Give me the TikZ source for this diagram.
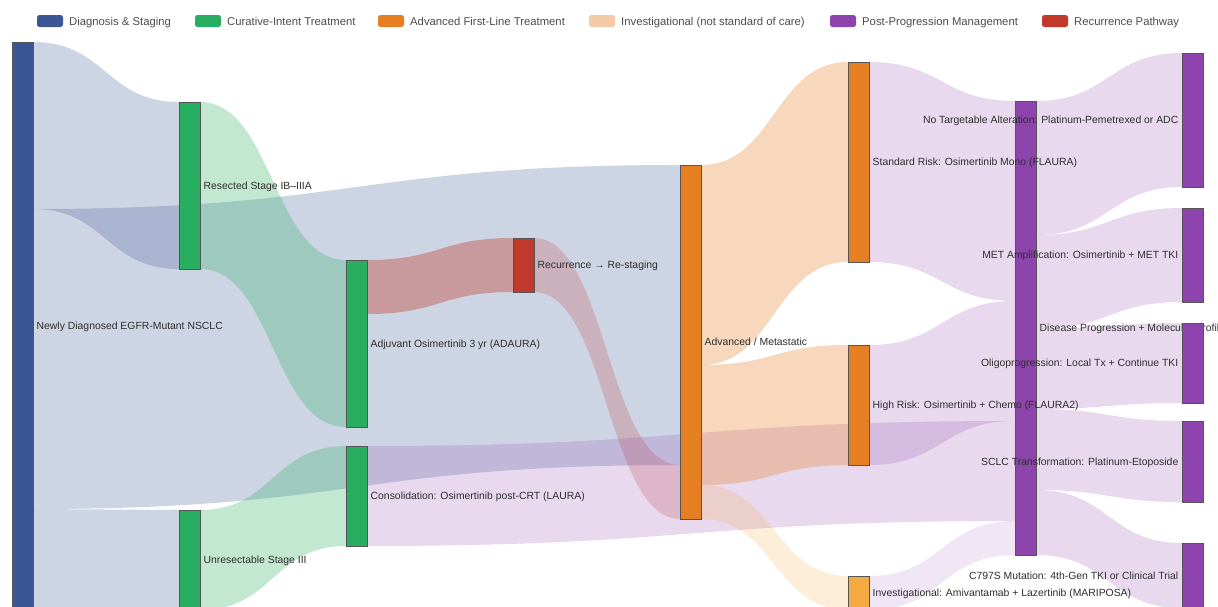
\documentclass[tikz,border=0pt]{standalone}
\usepackage{fontspec}
\setmainfont{Liberation Sans}
\usetikzlibrary{calc,backgrounds}
\pgfdeclarelayer{paper}
\pgfsetlayers{paper,background,main}
\definecolor{cblue}{HTML}{3B5595}
\definecolor{cgreen}{HTML}{27AE60}
\definecolor{corange}{HTML}{E67E22}
\definecolor{cpeach}{HTML}{F5CBA7}
\definecolor{cinv}{HTML}{F4AA40}
\definecolor{cpurple}{HTML}{8E44AD}
\definecolor{cred}{HTML}{C0392B}
\definecolor{ctext}{HTML}{2E2E2E}
\definecolor{cborder}{HTML}{555555}
\tikzset{
  sknode/.style={rectangle, draw=cborder, line width=0.7pt, inner sep=0pt, outer sep=0pt,
    minimum width=21pt, anchor=north west},
  lblR/.style={anchor=base west, inner sep=0pt, font=\fontsize{10.4}{12}\selectfont, text=ctext, xshift=3.5pt, yshift=-3.7pt},
  lblL/.style={anchor=base east, inner sep=0pt, font=\fontsize{10.4}{12}\selectfont, text=ctext, xshift=-3.5pt, yshift=-3.7pt},
  legbox/.style={rectangle, rounded corners=2.5pt, inner sep=0pt, outer sep=0pt,
    minimum width=26pt, minimum height=12pt, anchor=west},
  legtext/.style={anchor=base west, inner sep=0pt, font=\fontsize{11.3}{13}\selectfont, text=ctext!85!white, yshift=-4pt},
  fblue/.style={fill=cblue, fill opacity=0.25},
  fgreen/.style={fill=cgreen, fill opacity=0.28},
  fred/.style={fill=cred, fill opacity=0.38},
  fpink/.style={fill=cred, fill opacity=0.22},
  fpeach/.style={fill=corange, fill opacity=0.30},
  finv/.style={fill=cinv, fill opacity=0.20},
  fpurple/.style={fill=cpurple, fill opacity=0.20},
  fpurplelt/.style={fill=cpurple, fill opacity=0.13},
}
% #1 source, #2 offset in source, #3 target, #4 offset in target, #5 width, #6 style
\newcommand{\skflow}[6]{%
  \path[#6] let \p1=($(#1.north east)+(0,#2)$), \p2=($(#3.north west)+(0,#4)$),
    \p3=($(\p1)!0.5!(\p2)$) in
    (\p1) .. controls (\x3,\y1) and (\x3,\y2) .. (\p2)
    -- (\x2,{\y2-#5pt}) .. controls (\x3,{\y2-#5pt}) and (\x3,{\y1-#5pt}) .. (\x1,{\y1-#5pt})
    -- cycle;}
\begin{document}
\begin{tikzpicture}[x=1pt,y=-1pt]
\useasboundingbox (0,0) rectangle (1218,606);
\begin{pgfonlayer}{paper}
\fill[white] (0,0) rectangle (1218,606);
\end{pgfonlayer}
\clip (0,0) rectangle (1218,606);

% legend
\node[legbox, fill=cblue] (lg1) at (37,21) {};
\node[legtext] (lt1) at (69,21) {Diagnosis \& Staging};
\node[legbox, fill=cgreen] (lg2) at (195,21) {};
\node[legtext] (lt2) at (227,21) {Curative-Intent Treatment};
\node[legbox, fill=corange] (lg3) at (378,21) {};
\node[legtext] (lt3) at (410,21) {Advanced First-Line Treatment};
\node[legbox, fill=cpeach] (lg4) at (589,21) {};
\node[legtext] (lt4) at (621,21) {Investigational (not standard of care)};
\node[legbox, fill=cpurple] (lg5) at (830,21) {};
\node[legtext] (lt5) at (862,21) {Post-Progression Management};
\node[legbox, fill=cred] (lg6) at (1042,21) {};
\node[legtext] (lt6) at (1074,21) {Recurrence Pathway};

% nodes
\node[sknode, fill=cblue, minimum height=567pt] (nd) at (12,42) {};
\node[sknode, fill=cgreen, minimum height=167pt] (res) at (179,102) {};
\node[sknode, fill=cgreen, minimum height=100pt] (unr) at (179,510) {};
\node[sknode, fill=cgreen, minimum height=167pt] (adj) at (346,260) {};
\node[sknode, fill=cgreen, minimum height=100pt] (con) at (346,446) {};
\node[sknode, fill=cred, minimum height=54pt] (rec) at (513,238) {};
\node[sknode, fill=corange, minimum height=354pt] (adv) at (680,165) {};
\node[sknode, fill=corange, minimum height=200pt] (std) at (848,62) {};
\node[sknode, fill=corange, minimum height=120pt] (high) at (848,345) {};
\node[sknode, fill=cinv, minimum height=34pt] (inv) at (848,576) {};
\node[sknode, fill=cpurple, minimum height=454pt] (dp) at (1015,101) {};
\node[sknode, fill=cpurple, minimum height=134pt] (nta) at (1182,53) {};
\node[sknode, fill=cpurple, minimum height=94pt] (met) at (1182,208) {};
\node[sknode, fill=cpurple, minimum height=80pt] (oli) at (1182,323) {};
\node[sknode, fill=cpurple, minimum height=81pt] (scl) at (1182,421) {};
\node[sknode, fill=cpurple, minimum height=65pt] (c79) at (1182,543) {};

% flows
\begin{pgfonlayer}{background}
\skflow{nd}{0}{res}{0}{167}{fblue}
\skflow{nd}{167}{adv}{0}{300}{fblue}
\skflow{nd}{467}{unr}{0}{100}{fblue}
\skflow{res}{0}{adj}{0}{167}{fgreen}
\skflow{unr}{0}{con}{0}{100}{fgreen}
\skflow{adj}{0}{rec}{0}{54}{fred}
\skflow{rec}{0}{adv}{300}{54}{fpink}
\skflow{con}{0}{dp}{320}{100}{fpurple}
\skflow{adv}{0}{std}{0}{200}{fpeach}
\skflow{adv}{200}{high}{0}{120}{fpeach}
\skflow{adv}{320}{inv}{0}{34}{finv}
\skflow{std}{0}{dp}{0}{200}{fpurple}
\skflow{high}{0}{dp}{200}{120}{fpurple}
\skflow{inv}{0}{dp}{420}{34}{fpurplelt}
\skflow{dp}{0}{nta}{0}{134}{fpurple}
\skflow{dp}{134}{met}{0}{94}{fpurple}
\skflow{dp}{228}{oli}{0}{80}{fpurple}
\skflow{dp}{308}{scl}{0}{81}{fpurple}
\skflow{dp}{389}{c79}{0}{65}{fpurple}
% progression label lies under the right-hand column nodes, as in the reference
\node[lblR] (dpl) at (dp.east) {Disease Progression + Molecular Profiling};
\end{pgfonlayer}

% labels
\node[lblR] (ndl) at (nd.east) {Newly Diagnosed EGFR-Mutant NSCLC};
\node[lblR] (resl) at (res.east) {Resected Stage IB–IIIA};
\node[lblR] (unrl) at (unr.east) {Unresectable Stage III};
\node[lblR] (adjl) at (adj.east) {Adjuvant Osimertinib 3 yr (ADAURA)};
\node[lblR] (conl) at (con.east) {Consolidation: Osimertinib post-CRT (LAURA)};
\node[lblR] (recl) at (rec.east) {Recurrence → Re-staging};
\node[lblR] (advl) at (adv.east) {Advanced / Metastatic};
\node[lblR] (stdl) at (std.east) {Standard Risk: Osimertinib Mono (FLAURA)};
\node[lblR] (highl) at (high.east) {High Risk: Osimertinib + Chemo (FLAURA2)};
\node[lblR] (invl) at (inv.east) {Investigational: Amivantamab + Lazertinib (MARIPOSA)};
\node[lblL] (ntal) at (nta.west) {No Targetable Alteration: Platinum-Pemetrexed or ADC};
\node[lblL] (metl) at (met.west) {MET Amplification: Osimertinib + MET TKI};
\node[lblL] (olil) at (oli.west) {Oligoprogression: Local Tx + Continue TKI};
\node[lblL] (scll) at (scl.west) {SCLC Transformation: Platinum-Etoposide};
\node[lblL] (c79l) at (c79.west) {C797S Mutation: 4th-Gen TKI or Clinical Trial};
\end{tikzpicture}
\end{document}
